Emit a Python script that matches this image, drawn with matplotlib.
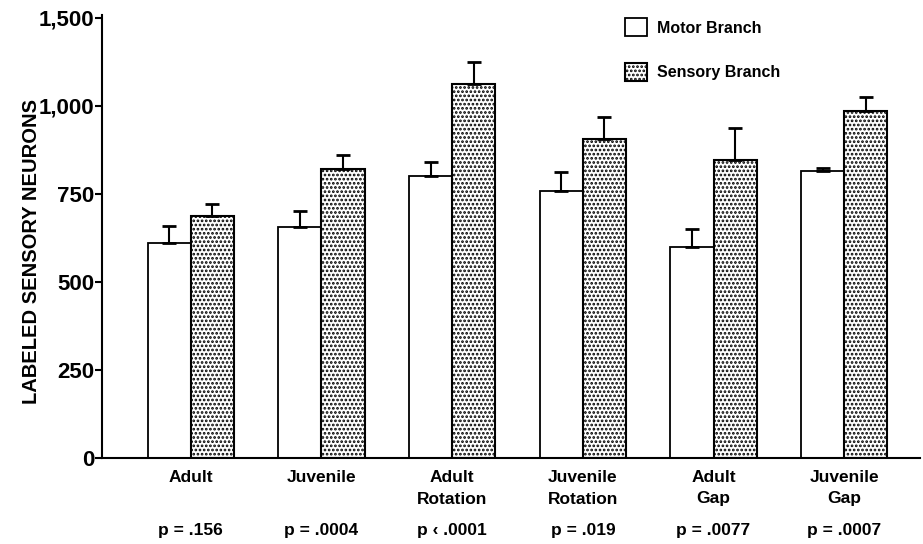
import matplotlib.pyplot as plt
import matplotlib.transforms as mtransforms
import numpy as np

plt.rcParams['font.family'] = ['Liberation Sans', 'DejaVu Sans']
plt.rcParams['hatch.linewidth'] = 1.3

groups = ["Adult", "Juvenile", "Adult\nRotation", "Juvenile\nRotation", "Adult\nGap", "Juvenile\nGap"]
p_values = ["p = .156", "p = .0004", "p \u2039 .0001", "p = .019", "p = .0077", "p = .0007"]

motor = [610, 655, 802, 759, 599, 815]
motor_err = [50, 47, 38, 52, 52, 8]
sensory = [688, 821, 1062, 905, 847, 984]
sensory_err = [33, 40, 62, 63, 90, 40]

ytick_vals = [0, 250, 500, 750, 1000, 1250]
ytick_labels = ["0", "250", "500", "750", "1,000", "1,500"]

x = np.arange(len(groups))
w = 0.33

fig = plt.figure(figsize=(9.23, 5.44), dpi=100)
ax = fig.add_axes([102 / 923, 86 / 544, 818 / 923, 443 / 544])

ax.bar(x - w / 2, motor, w, color='white', edgecolor='black', linewidth=1.3,
       label="Motor Branch")
ax.bar(x + w / 2, sensory, w, color='white', edgecolor='black', linewidth=1.5,
       hatch='....', label="Sensory Branch")

# one-sided error bars (upper only)
ax.errorbar(x - w / 2, motor, yerr=[np.zeros(len(motor)), motor_err], fmt='none',
            ecolor='black', elinewidth=1.5, capsize=5, capthick=2)
ax.errorbar(x + w / 2, sensory, yerr=[np.zeros(len(sensory)), sensory_err], fmt='none',
            ecolor='black', elinewidth=1.5, capsize=5, capthick=2)

ax.set_xlim(-0.679, 5.58)
ax.set_ylim(0, 1258)

ax.set_yticks(ytick_vals)
ax.set_yticklabels(ytick_labels, fontsize=16, fontweight='bold')
ax.tick_params(axis='y', direction='out', length=5, width=1.5, pad=0.5)

ax.set_xticks(x)
ax.set_xticklabels(groups, fontsize=12.5, fontweight='bold', linespacing=1.5)
ax.tick_params(axis='x', length=0, pad=9)

for s in ['top', 'right']:
    ax.spines[s].set_visible(False)
for s in ['left', 'bottom']:
    ax.spines[s].set_linewidth(1.5)

ax.set_ylabel("LABELED SENSORY NEURONS", fontsize=14.5, fontweight='bold')
ax.yaxis.set_label_coords(-(102 - 41) / 818, (458 - 251) / 443)

trans = mtransforms.blended_transform_factory(ax.transData, fig.transFigure)
for xi, p in zip(x, p_values):
    ax.text(xi, 1 - 531 / 544, p, transform=trans, ha='center', va='center',
            fontsize=12.5, fontweight='bold')

leg = ax.legend(loc='upper left', bbox_to_anchor=(625 / 923, 1 - 18 / 544),
                bbox_transform=fig.transFigure, frameon=False, fontsize=11.5,
                handlelength=1.4, handleheight=1.4, labelspacing=1.65,
                handletextpad=0.6, borderpad=0, borderaxespad=0)
for t in leg.get_texts():
    t.set_fontweight('bold')

fig.savefig('out.png', dpi=100)
